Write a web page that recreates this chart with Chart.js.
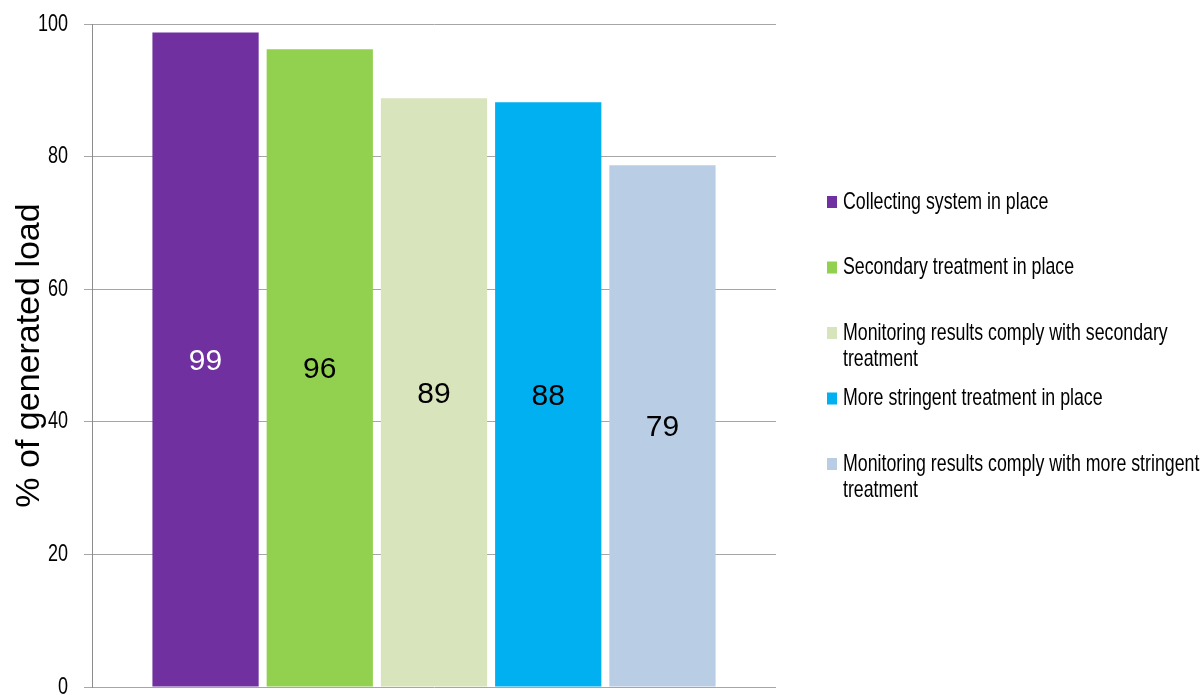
<!DOCTYPE html>
<html lang="en">
<head>
    <meta charset="UTF-8">
    <title>% of generated load</title>
    <script src="https://cdn.jsdelivr.net/npm/chart.js"></script>
    <style>
        html, body { margin: 0; padding: 0; background: #fff; }
        #wrap { width: 1202px; height: 695px; }
    </style>
</head>
<body>
    <div id="wrap"><canvas id="loadChart" width="1202" height="695"></canvas></div>

    <script>
        // series (one bar each)
        const seriesNames = [
            'Collecting system in place',
            'Secondary treatment in place',
            'Monitoring results comply with secondary treatment',
            'More stringent treatment in place',
            'Monitoring results comply with more stringent treatment'
        ];
        const seriesValues = [98.7, 96.2, 88.8, 88.2, 78.7];
        const seriesColors = ['#7030A0', '#92D050', '#D8E4BC', '#00B0F0', '#B9CDE5'];
        const labelColors = ['#ffffff', '#000000', '#000000', '#000000', '#000000'];
        const yTicks = [0, 20, 40, 60, 80, 100];

        const sans = "'Liberation Sans', Arial, sans-serif";

        // condensed tick labels (no narrow font installed, so squeeze horizontally)
        const yLabels = {
            id: 'yLabels',
            afterDraw(chart) {
                const ctx = chart.ctx;
                const scale = chart.scales.y;
                const squeeze = 0.75;
                ctx.save();
                ctx.font = '24px ' + sans;
                ctx.fillStyle = '#000';
                ctx.textAlign = 'right';
                ctx.textBaseline = 'middle';
                yTicks.forEach(v => {
                    const y = scale.getPixelForValue(v);
                    ctx.save();
                    ctx.translate(68, y);
                    ctx.scale(squeeze, 1);
                    ctx.fillText(String(v), 0, 0);
                    ctx.restore();
                });
                ctx.restore();
            }
        };

        // value labels in the middle of each bar
        const valueLabels = {
            id: 'valueLabels',
            afterDatasetsDraw(chart) {
                const ctx = chart.ctx;
                ctx.save();
                ctx.font = '30px ' + sans;
                ctx.textAlign = 'center';
                ctx.textBaseline = 'middle';
                chart.data.datasets.forEach((ds, i) => {
                    const bar = chart.getDatasetMeta(i).data[0];
                    ctx.fillStyle = labelColors[i];
                    ctx.fillText(Math.round(ds.data[0]), bar.x, (bar.y + bar.base) / 2 + 2);
                });
                ctx.restore();
            }
        };

        // legend on the right, wrapping long names
        const sideLegend = {
            id: 'sideLegend',
            afterDraw(chart) {
                const ctx = chart.ctx;
                const boxX = 827, textX = 843, firstY = 202, step = 65.5, lineH = 26.5;
                const squeeze = 0.74;
                const maxW = (chart.width - textX - 2) / squeeze;
                ctx.save();
                ctx.font = '24px ' + sans;
                ctx.textBaseline = 'middle';
                ctx.textAlign = 'left';
                chart.data.datasets.forEach((ds, i) => {
                    const y = firstY + i * step;
                    ctx.fillStyle = ds.backgroundColor;
                    ctx.fillRect(boxX, y - 6, 10, 12);
                    // wrap words
                    const words = ds.label.split(' ');
                    const lines = [];
                    let line = '';
                    words.forEach(w => {
                        const test = line ? line + ' ' + w : w;
                        if (ctx.measureText(test).width > maxW && line) {
                            lines.push(line);
                            line = w;
                        } else {
                            line = test;
                        }
                    });
                    lines.push(line);
                    ctx.fillStyle = '#000';
                    lines.forEach((l, j) => {
                        ctx.save();
                        ctx.translate(textX, y + j * lineH);
                        ctx.scale(squeeze, 1);
                        ctx.fillText(l, 0, 0);
                        ctx.restore();
                    });
                });
                ctx.restore();
            }
        };

        const ctx = document.getElementById('loadChart').getContext('2d');

        const loadChart = new Chart(ctx, {
            type: 'bar',
            data: {
                labels: [''],
                datasets: seriesNames.map((name, i) => ({
                    label: name,
                    data: [seriesValues[i]],
                    backgroundColor: seriesColors[i],
                    borderWidth: 0,
                    categoryPercentage: 0.835,
                    barPercentage: 0.93
                }))
            },
            options: {
                responsive: false,
                animation: false,
                layout: {
                    padding: { top: 24, right: 426, bottom: 8, left: 0 }
                },
                scales: {
                    x: {
                        display: false
                    },
                    y: {
                        min: 0,
                        max: 100,
                        afterBuildTicks(scale) {
                            scale.ticks = yTicks.map(v => ({ value: v }));
                        },
                        afterFit(scale) {
                            scale.width = 92;
                            scale.paddingTop = 0;
                            scale.paddingBottom = 0;
                        },
                        grid: {
                            color: '#a6a6a6',
                            tickLength: 8,
                            drawTicks: true
                        },
                        border: {
                            color: '#8c8c8c'
                        },
                        ticks: {
                            display: false
                        },
                        title: {
                            display: true,
                            text: '% of generated load',
                            color: '#000',
                            padding: { top: 9, bottom: 0 },
                            font: { size: 34, family: sans }
                        }
                    }
                },
                plugins: {
                    legend: { display: false },
                    tooltip: { enabled: false }
                }
            },
            plugins: [yLabels, valueLabels, sideLegend]
        });
    </script>
</body>
</html>
